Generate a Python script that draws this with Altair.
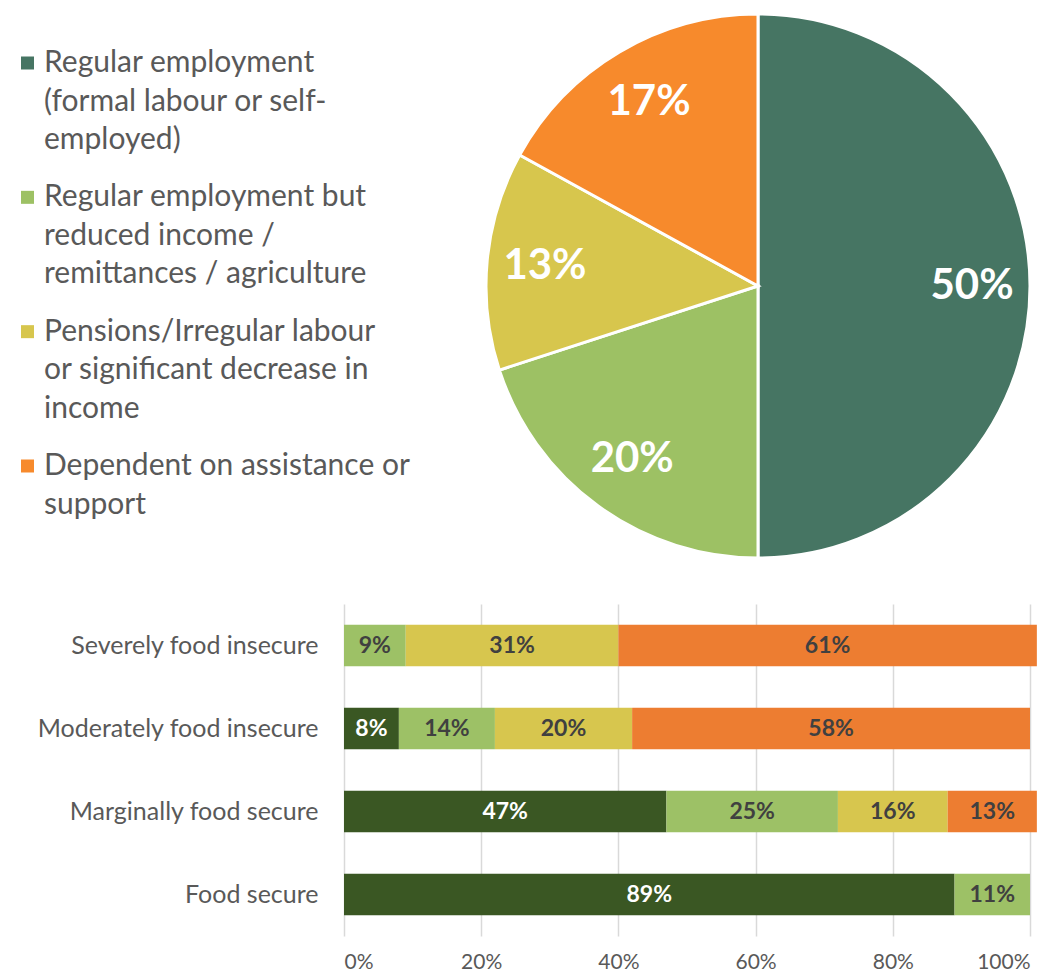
import altair as alt
import pandas as pd

# ---------------- data ----------------
categories = [
    "Regular employment (formal labour or self-employed)",
    "Regular employment but reduced income / remittances / agriculture",
    "Pensions/Irregular labour or significant decrease in income",
    "Dependent on assistance or support",
]
legend_lines = [
    "Regular employment\n(formal labour or self-\nemployed)",
    "\u00a0Regular employment but\nreduced income /\nremittances / agriculture",
    "\u00a0Pensions/Irregular labour\nor significant decrease in\nincome",
    "Dependent on assistance or\nsupport",
]
pie_values = [50, 20, 13, 17]
pie_colors = ["#467563", "#9dc164", "#d7c64d", "#f78a2c"]

groups = ["Severely food insecure", "Moderately food insecure",
          "Marginally food secure", "Food secure"]
bar_regular = [0, 8, 47, 89]
bar_reduced = [9, 14, 25, 11]
bar_pensions = [31, 20, 16, 0]
bar_dependent = [61, 58, 13, 0]
bar_colors = ["#3a5723", "#9dc166", "#d7c64e", "#ed7d31"]
x_ticks = [0, 20, 40, 60, 80, 100]

FONT = "Lato"
GREY = "#595959"

# ---------------- top: legend + pie in one view ----------------
color_scale = alt.Scale(domain=categories, range=pie_colors)

legend_df = pd.DataFrame({"category": categories, "text": legend_lines})
leg_base = alt.Chart(legend_df).encode(
    y=alt.Y("category:N", sort=categories, axis=None,
            scale=alt.Scale(domain=categories, range=[51, 454], padding=0)),
)
leg_sq = leg_base.mark_square(size=169, opacity=1).encode(
    x=alt.value(19.5),
    color=alt.Color("category:N", scale=color_scale, legend=None),
)
leg_txt = leg_base.mark_text(align="left", baseline="top", dy=-15, lineBreak="\n",
                             lineHeight=38.5, font=FONT, fontSize=30, color=GREY).encode(
    x=alt.value(36), text="text:N")

pie_df = pd.DataFrame({
    "category": categories, "value": pie_values, "ord": list(range(4)),
    "label": [f"{v}%" for v in pie_values],
})
pie_base = alt.Chart(pie_df).encode(
    theta=alt.Theta("value:Q", stack=True),
    order=alt.Order("ord:Q"),
    x=alt.value(750),
    y=alt.value(274),
)
pie_arc = pie_base.mark_arc(outerRadius=272, stroke="white", strokeWidth=3).encode(
    color=alt.Color("category:N", scale=color_scale, legend=None),
)
pie_txt = pie_base.mark_text(radius=214, font=FONT, fontSize=42, fontWeight="bold").encode(
    text="label:N", color=alt.value("white"))

top = alt.layer(pie_arc, pie_txt, leg_sq, leg_txt).properties(width=1026, height=552)

# ---------------- stacked bars ----------------
series = [bar_regular, bar_reduced, bar_pensions, bar_dependent]
rows = []
for gi, g in enumerate(groups):
    for ci, c in enumerate(categories):
        v = series[ci][gi]
        if v > 0:
            rows.append({"group": g, "source": c, "cidx": ci, "value": v, "label": f"{v}%"})
bar_df = pd.DataFrame(rows)

bar_base = alt.Chart(bar_df).transform_stack(
    stack="value", groupby=["group"], as_=["x0", "x1"],
    sort=[alt.SortField("cidx", order="ascending")],
).transform_calculate(mid="(datum.x0 + datum.x1) / 2").encode(
    y=alt.Y("group:N", sort=groups, title=None,
            scale=alt.Scale(paddingInner=0.5, paddingOuter=0.25),
            axis=alt.Axis(domain=False, ticks=False, labelFont=FONT, labelFontSize=25,
                          labelColor=GREY, labelPadding=0, labelLimit=400, offset=-310)),
)
bars = bar_base.mark_bar().encode(
    x=alt.X("x0:Q", scale=alt.Scale(domain=[0, 100], nice=False, range=[336, 1022]),
            axis=alt.Axis(values=x_ticks, labelExpr="datum.value + '%'", grid=True,
                          gridColor="#d9d9d9", gridWidth=1.5, domain=False, ticks=False,
                          labelFont=FONT, labelFontSize=21, labelColor=GREY,
                          labelPadding=15, title=None)),
    x2="x1:Q",
    color=alt.Color("source:N", scale=alt.Scale(domain=categories, range=bar_colors), legend=None),
)
bar_txt = bar_base.mark_text(font=FONT, fontSize=23, fontWeight="bold").encode(
    x=alt.X("mid:Q"),
    text="label:N",
    color=alt.condition(alt.datum.cidx == 0, alt.value("white"), alt.value("#404040")),
)
bar_chart = alt.layer(bars, bar_txt).properties(width=1022, height=332)

chart = alt.vconcat(top, bar_chart, spacing=40).resolve_scale(
    color="independent").properties(padding=0).configure_view(stroke=None)

chart.save("out.html", embed_options={"renderer": "svg", "actions": False})
